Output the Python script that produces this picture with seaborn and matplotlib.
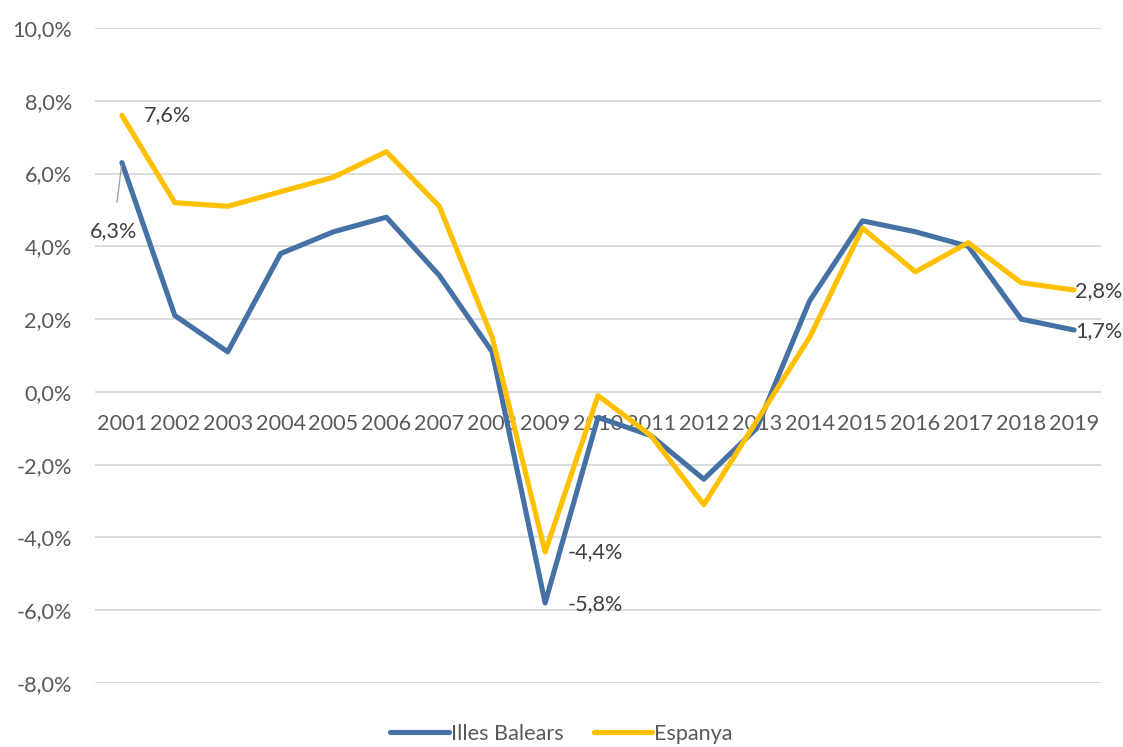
import pandas as pd
import matplotlib
matplotlib.use("Agg")
import matplotlib.pyplot as plt
import seaborn as sns
from matplotlib.ticker import FuncFormatter, MultipleLocator

# Data (annual % change)
years = list(range(2001, 2020))
balears = [6.3, 2.1, 1.1, 3.8, 4.4, 4.8, 3.2, 1.1, -5.8, -0.7,
           -1.2, -2.4, -1.0, 2.5, 4.7, 4.4, 4.0, 2.0, 1.7]
espanya = [7.6, 5.2, 5.1, 5.5, 5.9, 6.6, 5.1, 1.5, -4.4, -0.1,
           -1.2, -3.1, -0.8, 1.5, 4.5, 3.3, 4.1, 3.0, 2.8]
series_names = ["Illes Balears", "Espanya"]
colors = ["#4671A5", "#FFC000"]

df = pd.DataFrame({"Any": years * 2,
                   "Valor": balears + espanya,
                   "Serie": [series_names[0]] * len(years) + [series_names[1]] * len(years)})

sns.set_style("white")
plt.rcParams['font.family'] = ['Lato', 'DejaVu Sans']
fs = 15.6

fig = plt.figure(figsize=(11.23, 7.47), dpi=100)
ax = fig.add_axes([0.085, 0.0857, 0.895, 0.8768])

sns.lineplot(data=df, x="Any", y="Valor", hue="Serie", palette=colors,
             linewidth=3.7, ax=ax, legend=False)

ax.set_xlim(2000.5, 2019.5)
ax.set_ylim(-8, 10)
ax.yaxis.set_major_locator(MultipleLocator(2))
ax.yaxis.set_major_formatter(FuncFormatter(lambda v, p: f"{v:.1f}%".replace(".", ",")))
ax.set_xticks(years)
ax.set_xticklabels([str(y) for y in years])
ax.grid(axis="y", color="#D9D9D9", linewidth=1.3)
ax.set_axisbelow(True)
for s in ax.spines.values():
    s.set_visible(False)
ax.spines['bottom'].set_position(('data', 0))
ax.tick_params(axis="x", length=0, pad=16, labelsize=fs, labelcolor="#595959")
ax.tick_params(axis="y", length=0, pad=17, labelsize=fs, labelcolor="#595959")
ax.set_xlabel("")
ax.set_ylabel("")

# Data labels
lab = dict(fontsize=fs, color="#404040")
fmt = lambda v: f"{v:.1f}%".replace(".", ",")
ax.annotate(fmt(espanya[0]), (years[0], espanya[0]), xytext=(16, 0),
            textcoords="offset points", va="center", ha="left", **lab)
ax.annotate(fmt(balears[0]), (years[0], balears[0]), xytext=(-6, -49),
            textcoords="offset points", va="center", ha="center",
            arrowprops=dict(arrowstyle="-", color="#A6A6A6", lw=1, shrinkA=11, shrinkB=2), **lab)
ax.annotate(fmt(espanya[8]), (years[8], espanya[8]), xytext=(16, 0),
            textcoords="offset points", va="center", ha="left", **lab)
ax.annotate(fmt(balears[8]), (years[8], balears[8]), xytext=(16, -1),
            textcoords="offset points", va="center", ha="left", **lab)
ax.annotate(fmt(espanya[-1]), (years[-1], espanya[-1]), xytext=(1, -1),
            textcoords="offset points", va="center", ha="left", **lab)
ax.annotate(fmt(balears[-1]), (years[-1], balears[-1]), xytext=(1, -1),
            textcoords="offset points", va="center", ha="left", **lab)

handles = [plt.Line2D([], [], color=c, linewidth=3.7, solid_capstyle="round") for c in colors]
fig.legend(handles, series_names, loc="lower center", bbox_to_anchor=(0.5, -0.022),
           ncol=2, frameon=False, fontsize=fs, handlelength=2.7, handletextpad=0.1,
           columnspacing=1.4, labelcolor="#595959")

fig.savefig("out.png", dpi=100)
